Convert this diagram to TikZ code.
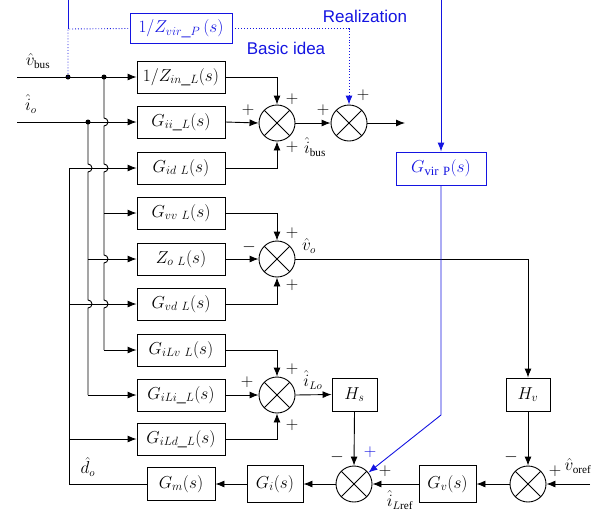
\documentclass[tikz,border=0pt]{standalone}
\usepackage{fontspec}
\setmainfont{Liberation Serif}
\newfontfamily\blsans{Liberation Sans}
\usetikzlibrary{arrows.meta}
\definecolor{myblue}{RGB}{20,20,225}
\tikzset{
  blk/.style={draw, line width=0.9pt, rectangle, inner sep=0pt, minimum width=88pt, minimum height=32pt, font=\fontsize{18}{20}\selectfont},
  bblk/.style={blk, draw=myblue, text=myblue},
  sumnode/.style={circle, draw, line width=0.9pt, minimum size=36pt, inner sep=0pt,
    path picture={\draw[line width=0.9pt] (path picture bounding box.north west) -- (path picture bounding box.south east)
      (path picture bounding box.north east) -- (path picture bounding box.south west);}},
  sig/.style={line width=0.9pt},
  arr/.style={sig, -{Latex[length=9pt,width=7pt]}},
  barr/.style={line width=0.9pt, draw=myblue, -{Latex[length=9pt,width=7pt]}, fill=none},
  sgn/.style={font=\fontsize{17}{17}\selectfont, inner sep=0pt},
  lbl/.style={font=\fontsize{16}{16}\selectfont, inner sep=0pt},
  dotn/.style={circle, fill, inner sep=0pt, minimum size=5pt},
}
\begin{document}
\begin{tikzpicture}[x=1pt,y=-1pt]
\useasboundingbox (0,0) rectangle (612,517);
% blocks
\node[blk] (zin) at (181,77) {$1\big/Z_{in\_L}(s)$};
\node[blk] (gii) at (181,122) {$G_{ii\_L}(s)$};
\node[blk] (gid) at (181,168) {$G_{id\ L}(s)$};
\node[blk] (gvv) at (181,213) {$G_{vv\ L}(s)$};
\node[blk] (zo) at (181,259) {$Z_{o\ L}(s)$};
\node[blk] (gvd) at (181,304) {$G_{vd\ L}(s)$};
\node[blk] (gilv) at (181,350) {$G_{iLv\ L}(s)$};
\node[blk] (gili) at (181,395) {$G_{iLi\_L}(s)$};
\node[blk] (gild) at (181,439) {$G_{iLd\_L}(s)$};
\node[blk, minimum width=68pt, minimum height=33pt] (gm) at (181,484) {$G_m(s)$};
\node[blk, minimum width=56pt, minimum height=37pt] (gi) at (275,484) {$G_i(s)$};
\node[blk, minimum width=57pt, minimum height=37pt] (gv) at (447.5,484) {$G_v(s)$};
\node[blk, minimum width=45pt, minimum height=33pt] (hs) at (354.5,394.5) {$H_s$};
\node[blk, minimum width=44pt, minimum height=33pt] (hv) at (528,394.5) {$H_v$};
\node[bblk, minimum width=90pt, minimum height=33pt] (gvir) at (441,168.5) {$G_{\mathrm{vir\ P}}(s)$};
\node[bblk, minimum width=102pt, minimum height=30pt] (zvir) at (181,28.5) {$1\big/Z_{vir\_P}\,(s)$};
% sums
\node[sumnode] (s1) at (277,123) {};
\node[sumnode] (s2) at (349,123) {};
\node[sumnode] (s3) at (277,259) {};
\node[sumnode] (s4) at (277,395) {};
\node[sumnode] (s5) at (354,484) {};
\node[sumnode] (s6) at (528,484) {};
% coordinates
\coordinate (vin) at (17,77);
\coordinate (iin) at (17,122);
\coordinate (outp) at (405,123);
\coordinate (vref) at (590,484);
\coordinate (jv1) at (68,77);
\coordinate (jv2) at (104,77);
\coordinate (ji) at (88,122);
% inputs
\draw[arr] (vin) -- (zin.west);
\draw[arr] (iin) -- (gii.west);
\node[dotn] at (jv1) {};
\node[dotn] at (jv2) {};
\node[dotn] at (ji) {};
\node[lbl] at (38,61) {$\hat v_{\mathrm{bus}}$};
\node[lbl] at (31,104) {$\hat i_o$};
% vertical x=104 with bumps
\draw[sig] (jv2) -- (104,118) arc[start angle=-90,end angle=90,radius=4]
  -- (104,164) arc[start angle=-90,end angle=90,radius=4]
  -- (104,255) arc[start angle=-90,end angle=90,radius=4]
  -- (104,300) arc[start angle=-90,end angle=90,radius=4]
  -- (104,350);
\draw[arr] (104,350) -- (gilv.west);
\draw[arr] (104,213) -- (gvv.west);
% vertical x=88
\draw[sig] (ji) -- (88,164) arc[start angle=-90,end angle=90,radius=4]
  -- (88,300) arc[start angle=-90,end angle=90,radius=4]
  -- (88,395);
\draw[arr] (88,395) -- (gili.west);
\draw[arr] (88,259) -- (zo.west);
% vertical x=69 (d_o)
\draw[sig] (gm.west) -- (69,484) -- (69,168);
\draw[arr] (69,168) -- (gid.west);
\draw[arr] (69,304) -- (gvd.west);
\draw[arr] (69,439) -- (gild.west);
\node[lbl] at (88,467) {$\hat d_o$};
% sum 1
\draw[arr] (zin.east) -| (s1.north);
\draw[arr] (gii.east) -- (s1.west);
\draw[arr] (gid.east) -| (s1.south);
\node[sgn] at (292,99) {$+$};
\node[sgn] at (248,110) {$+$};
\node[sgn] at (292,147) {$+$};
\node[lbl] at (315,147) {$\hat i_{\mathrm{bus}}$};
% sum 2
\draw[arr] (s1.east) -- (s2.west);
\draw[arr] (s2.east) -- (outp);
\node[sgn] at (323,110) {$+$};
\node[sgn] at (363,95) {$+$};
% sum 3
\draw[arr] (gvv.east) -| (s3.north);
\draw[arr] (zo.east) -- (s3.west);
\draw[arr] (gvd.east) -| (s3.south);
\node[sgn] at (292,233) {$+$};
\node[sgn] at (249,247) {$-$};
\node[sgn] at (292,285) {$+$};
\node[lbl] at (309,246) {$\hat v_o$};
\draw[arr] (s3.east) -| (hv.north);
% sum 4
\draw[arr] (gilv.east) -| (s4.north);
\draw[arr] (gili.east) -- (s4.west);
\draw[arr] (gild.east) -| (s4.south);
\node[sgn] at (292,369) {$+$};
\node[sgn] at (247,382) {$+$};
\node[sgn] at (292,425) {$+$};
\draw[arr] (s4.east) -- (hs.west);
\node[lbl] at (313,380) {$\hat i_{Lo}$};
% lower loop
\draw[arr] (hs.south) -- (s5.north);
\draw[arr] (hv.south) -- (s6.north);
\node[sgn] at (337,457) {$-$};
\node[sgn] at (511,457) {$-$};
\draw[arr] (vref) -- (s6.east);
\node[sgn] at (555,471) {$+$};
\node[lbl] at (578,466) {$\hat v_{\mathrm{oref}}$};
\draw[arr] (s6.west) -- (gv.east);
\draw[arr] (gv.west) -- (s5.east);
\node[sgn] at (385,471) {$+$};
\node[lbl] at (400,500) {$\hat i_{L\mathrm{ref}}$};
\draw[arr] (s5.west) -- (gi.east);
\draw[arr] (gi.west) -- (gm.east);
% blue paths
\coordinate (b1) at (68,29);
\coordinate (btop) at (68,0);
\coordinate (btop2) at (441,0);
\coordinate (bk) at (441,415);
\draw[myblue, line width=0.9pt, dotted] (jv1) -- (b1) -- (zvir.west);
\draw[barr, dotted] (zvir.east) -| (s2.north);
\draw[myblue, line width=0.9pt] (b1) -- (btop);
\draw[barr] (btop2) -- (gvir.north);
\draw[barr] (gvir.south) -- (bk) -- (s5);
\node[sgn, text=myblue] at (370,452) {$+$};
\node[font=\blsans\fontsize{17}{17}\selectfont, text=myblue, inner sep=0pt] at (365,16) {Realization};
\node[font=\blsans\fontsize{17}{17}\selectfont, text=myblue, inner sep=0pt] at (286,48) {Basic idea};
\end{tikzpicture}
\end{document}
